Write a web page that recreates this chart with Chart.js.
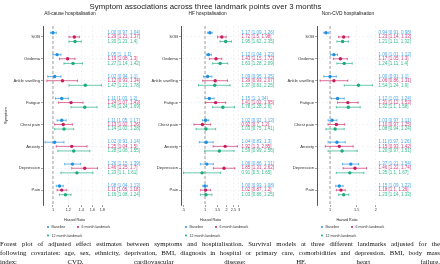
<!DOCTYPE html>
<html>
<head>
<meta charset="utf-8">
<script src="https://cdn.jsdelivr.net/npm/chart.js@4.4.1/dist/chart.umd.min.js"></script>
<style>
  body { margin: 0; background: #fff; }
  #wrap { position: relative; width: 440px; height: 264px; overflow: hidden; background: #fff; }
  canvas { position: absolute; top: 0; }
  #title { position: absolute; left: 0; top: 2px; width: 411px; text-align: center; z-index: 2;
           font: 7.8px/9px "Liberation Sans", Arial, sans-serif; color: #222; }
  #caption { position: absolute; left: 0; top: 239px; width: 440px; z-index: 2;
             font: 6.8px/9.2px "Liberation Serif", "Times New Roman", serif; color: #111; }
  #caption div { text-align: justify; text-align-last: justify; white-space: nowrap; }
</style>
</head>
<body>
<div id="wrap">
  <div id="title">Symptom associations across three landmark points over 3 months</div>
  <canvas id="c1" width="145" height="240" style="left:0px"></canvas>
  <canvas id="c2" width="140" height="240" style="left:145px"></canvas>
  <canvas id="c3" width="155" height="240" style="left:285px"></canvas>
  <div id="caption">
    <div>Forest plot of adjusted effect estimates between symptoms and hospitalisation. Survival models at three different landmarks adjusted for the</div>
    <div>following covariates: age, sex, ethnicity, deprivation, BMI, diagnosis in hospital or primary care, comorbidities and depression. BMI, body mass</div>
    <div>index; CVD, cardiovascular disease; HF, heart failure.</div>
  </div>
</div>
<script>
const symptoms = ['SOB', 'Oedema', 'Ankle swelling', 'Fatigue', 'Chest pain', 'Anxiety', 'Depression', 'Pain'];
const seriesNames = ['Baseline', '6 month landmark', '12 month landmark'];
const panelTitles = ['All-cause hospitalisation', 'HF hospitalisation', 'Non-CVD hospitalisation'];

// [HR, lower, upper] per symptom
const allBase = [[1.00, 0.97, 1.04], [1.05, 1.00, 1.10], [1.02, 0.94, 1.10], [1.11, 1.03, 1.20],
                 [1.11, 1.05, 1.17], [1.02, 0.91, 1.14], [1.26, 1.15, 1.39], [1.08, 1.04, 1.13]];
const all6m   = [[1.29, 1.21, 1.37], [1.19, 1.08, 1.30], [1.12, 0.93, 1.34], [1.24, 1.07, 1.43],
                 [1.13, 1.02, 1.26], [1.25, 1.04, 1.50], [1.46, 1.25, 1.70], [1.11, 1.05, 1.18]];
const all12m  = [[1.30, 1.21, 1.40], [1.27, 1.14, 1.42], [1.47, 1.21, 1.78], [1.46, 1.24, 1.69],
                 [1.14, 1.02, 1.28], [1.28, 1.06, 1.55], [1.33, 1.10, 1.61], [1.16, 1.08, 1.24]];

const hfBase  = [[1.17, 1.09, 1.26], [1.12, 1.04, 1.23], [1.09, 0.95, 1.25], [1.15, 1.00, 1.34],
                 [1.02, 0.92, 1.13], [1.04, 0.83, 1.30], [1.06, 0.86, 1.31], [1.00, 0.93, 1.08]];
const hf6m    = [[1.72, 1.50, 1.98], [1.43, 1.15, 1.72], [1.39, 0.93, 2.07], [1.41, 1.02, 1.95],
                 [0.92, 0.70, 1.20], [1.92, 1.30, 2.85], [1.85, 1.31, 2.62], [1.02, 0.87, 1.20]];
const hf12m   = [[1.95, 1.62, 2.35], [1.63, 1.28, 2.09], [1.37, 0.81, 2.25], [1.78, 1.28, 2.60],
                 [1.03, 0.75, 1.41], [1.59, 0.99, 2.56], [0.91, 0.50, 1.65], [1.03, 0.86, 1.25]];

const ncBase  = [[0.94, 0.91, 0.98], [1.06, 1.01, 1.12], [1.00, 0.91, 1.10], [1.12, 1.02, 1.24],
                 [1.03, 0.97, 1.11], [1.11, 0.97, 1.26], [1.37, 1.21, 1.54], [1.15, 1.09, 1.22]];
const nc6m    = [[1.23, 1.14, 1.33], [1.17, 1.05, 1.30], [1.06, 0.86, 1.31], [1.31, 1.12, 1.53],
                 [1.10, 0.97, 1.25], [1.15, 0.93, 1.42], [1.46, 1.22, 1.74], [1.18, 1.10, 1.26]];
const nc12m   = [[1.21, 1.11, 1.32], [1.24, 1.11, 1.40], [1.54, 1.24, 1.90], [1.32, 1.10, 1.58],
                 [1.08, 0.94, 1.24], [1.20, 0.97, 1.51], [1.35, 1.10, 1.67], [1.23, 1.14, 1.33]];

const tickVals = [[1, 1.2, 1.4, 1.6, 1.8], [0.5, 1, 1.5, 2, 2.5, 3], [1, 1.5, 2]];
const tickLabels = [['1', '1.2', '1.4', '1.6', '1.8'], ['.5', '1', '1.5', '2', '2.5', '3'], ['1', '1.5', '2']];

const pointColors = ['#1f8fe0', '#c81b5e', '#1aaa7e'];
const barColors = ['rgba(50,155,228,0.8)', 'rgba(205,45,105,0.75)', 'rgba(35,175,130,0.75)'];
const textColors = ['#4aa6e6', '#d2407c', '#36b98b'];
const offsets = [-0.19, 0, 0.21];
const FONT = '"Liberation Sans", Arial, sans-serif';

const trim = v => String(+v.toFixed(2));

const forestPlugin = {
  id: 'forest',
  beforeDatasetsDraw(chart) {
    const { ctx, chartArea: a, scales: { x, y } } = chart;
    const p = chart.options.plugins.forest;
    ctx.save();
    // reference line at HR = 1
    const rx = x.getPixelForValue(1);
    ctx.strokeStyle = '#b5b5b5';
    ctx.lineWidth = 1.3;
    ctx.setLineDash([3, 2]);
    ctx.beginPath(); ctx.moveTo(rx, a.top); ctx.lineTo(rx, a.bottom); ctx.stroke();
    ctx.setLineDash([]);
    // confidence intervals
    p.series.forEach((s, k) => {
      ctx.strokeStyle = barColors[k];
      ctx.lineWidth = 0.9;
      s.forEach((r, i) => {
        const py = y.getPixelForValue(i + offsets[k]);
        const x0 = x.getPixelForValue(r[1]);
        const x1 = x.getPixelForValue(r[2]);
        ctx.beginPath();
        ctx.moveTo(x0, py); ctx.lineTo(x1, py);
        ctx.moveTo(x0, py - 1.2); ctx.lineTo(x0, py + 1.2);
        ctx.moveTo(x1, py - 1.2); ctx.lineTo(x1, py + 1.2);
        ctx.stroke();
      });
    });
    ctx.restore();
  },
  afterDraw(chart) {
    const { ctx, chartArea: a, scales: { y } } = chart;
    const p = chart.options.plugins.forest;
    ctx.save();
    // estimate text
    ctx.font = '4.5px ' + FONT;
    ctx.textBaseline = 'middle';
    ctx.textAlign = 'left';
    p.series.forEach((s, k) => {
      ctx.fillStyle = textColors[k];
      s.forEach((r, i) => {
        const py = y.getPixelForValue(i + offsets[k]);
        ctx.fillText(r[0].toFixed(2) + ' [' + trim(r[1]) + ', ' + trim(r[2]) + ']', a.right + 1.5, py);
      });
    });
    // panel title
    ctx.fillStyle = '#222';
    ctx.font = '4.8px ' + FONT;
    ctx.textAlign = 'center';
    ctx.fillText(p.title, p.titleX, 14);
    // legend
    ctx.font = '3.6px ' + FONT;
    ctx.textAlign = 'left';
    const pos = [[a.left + 5, 227], [a.left + 35, 227], [a.left + 5, 235.5]];
    seriesNames.forEach((n, k) => {
      ctx.fillStyle = pointColors[k];
      ctx.beginPath(); ctx.arc(pos[k][0], pos[k][1], 1, 0, Math.PI * 2); ctx.fill();
      ctx.fillStyle = '#333';
      ctx.fillText(n, pos[k][0] + 3.5, pos[k][1]);
    });
    ctx.restore();
  }
};

function makePanel(id, idx, series, yWidth, padRight, min, max, titleX) {
  const datasets = series.map((s, k) => ({
    label: seriesNames[k],
    data: s.map((r, i) => ({ x: r[0], y: i + offsets[k] })),
    backgroundColor: pointColors[k],
    borderColor: pointColors[k],
    pointRadius: 1.7,
    pointBorderWidth: 0
  }));
  new Chart(document.getElementById(id), {
    type: 'scatter',
    data: { datasets },
    plugins: [forestPlugin],
    options: {
      responsive: false,
      animation: false,
      devicePixelRatio: 1,
      layout: { padding: { left: 0, top: 26, right: padRight, bottom: 18 } },
      plugins: {
        legend: { display: false },
        tooltip: { enabled: false },
        forest: { series, title: panelTitles[idx], titleX }
      },
      scales: {
        x: {
          type: 'logarithmic',
          min, max,
          afterBuildTicks: s => { s.ticks = tickVals[idx].map(v => ({ value: v })); },
          afterFit: s => { s.height = 17; },
          ticks: {
            callback: (v, i) => tickLabels[idx][i],
            autoSkip: false, maxRotation: 0, padding: 1,
            font: { size: 3.8, family: FONT }, color: '#333'
          },
          grid: { color: '#ececec', lineWidth: 0.6, tickColor: '#666', tickLength: 2 },
          border: { display: false, dash: [2, 2] },
          title: { display: true, text: 'Hazard Ratio', font: { size: 3.6, family: FONT }, color: '#222', padding: { top: 1.5, bottom: 0 } }
        },
        y: {
          type: 'linear',
          reverse: true,
          min: -0.5, max: 7.68,
          afterBuildTicks: s => { s.ticks = symptoms.map((_, i) => ({ value: i })); },
          afterFit: s => { s.width = yWidth; },
          ticks: {
            callback: v => symptoms[v],
            autoSkip: false, padding: 1,
            font: { size: 4.2, family: FONT }, color: '#333'
          },
          grid: { color: '#ececec', lineWidth: 0.6, tickColor: '#666', tickLength: 2 },
          border: { color: '#555', width: 1, dash: [2, 2] },
          title: { display: idx === 0, text: 'Symptom', font: { size: 4, family: FONT }, color: '#222', padding: { top: 3, bottom: 0 } }
        }
      }
    }
  });
}

makePanel('c1', 0, [allBase, all6m, all12m], 43, 39, 0.888, 1.88, 70);
makePanel('c2', 1, [hfBase, hf6m, hf12m], 36, 45, 0.46, 3.1, 62.5);
makePanel('c3', 2, [ncBase, nc6m, nc12m], 32, 63, 0.82, 2.04, 63);
</script>
</body>
</html>
